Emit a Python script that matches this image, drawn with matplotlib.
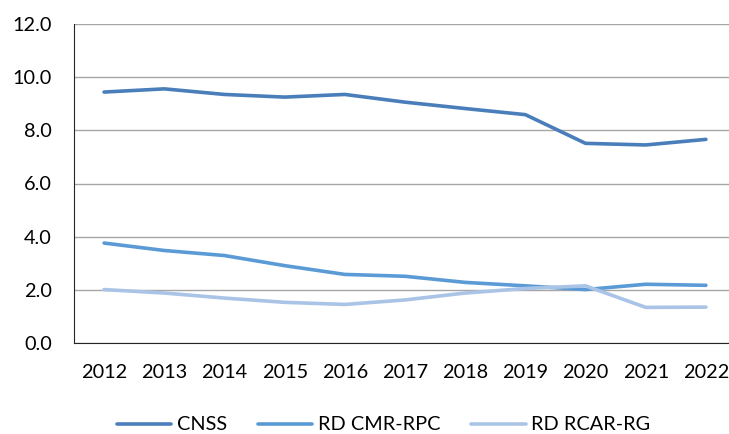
import matplotlib
matplotlib.use("Agg")
import matplotlib.pyplot as plt

years = ["2012", "2013", "2014", "2015", "2016", "2017", "2018", "2019", "2020", "2021", "2022"]
cnss = [9.44, 9.56, 9.35, 9.25, 9.35, 9.06, 8.82, 8.59, 7.51, 7.45, 7.66]
cmr_rpc = [3.76, 3.48, 3.29, 2.91, 2.58, 2.51, 2.28, 2.15, 2.01, 2.21, 2.17]
rcar_rg = [2.01, 1.88, 1.69, 1.53, 1.45, 1.62, 1.88, 2.05, 2.15, 1.34, 1.35]
series_names = ["CNSS", "RD CMR-RPC", "RD RCAR-RG"]
yticks = [0, 2, 4, 6, 8, 10, 12]

plt.rcParams['font.family'] = ['Lato', 'DejaVu Sans']
FS = 14.3

fig = plt.figure(figsize=(7.29, 4.34), dpi=100)
ax = fig.add_axes([74/729, 91/434, 662/729, 319/434])

x = list(range(len(years)))
colors = ["#4a7ebb", "#5b9bd5", "#a9c4e6"]
for vals, name, c in zip([cnss, cmr_rpc, rcar_rg], series_names, colors):
    ax.plot(x, vals, color=c, lw=2.6, label=name, solid_capstyle='round')

ax.set_xlim(-0.5, len(years) - 0.5)
ax.set_ylim(0, 12)
ax.set_yticks(yticks)
ax.set_yticklabels([f"{v:.1f}" for v in yticks])
ax.set_xticks(x)
ax.set_xticklabels(years)
ax.tick_params(axis='both', length=0, labelsize=FS, colors='black')
ax.tick_params(axis='x', pad=15)
ax.tick_params(axis='y', pad=16)
ax.grid(axis='y', color='#a6a6a6', lw=1)
ax.set_axisbelow(True)
for s in ['top', 'right']:
    ax.spines[s].set_visible(False)
ax.spines['left'].set_color('#262626')
ax.spines['bottom'].set_color('#262626')

fig.legend(loc='center left', bbox_to_anchor=(109/729, 9/434), ncol=3, frameon=False,
           fontsize=FS, handlelength=2.72, columnspacing=1.56, handletextpad=0.3,
           borderaxespad=0)

fig.savefig("out.png", dpi=100)
